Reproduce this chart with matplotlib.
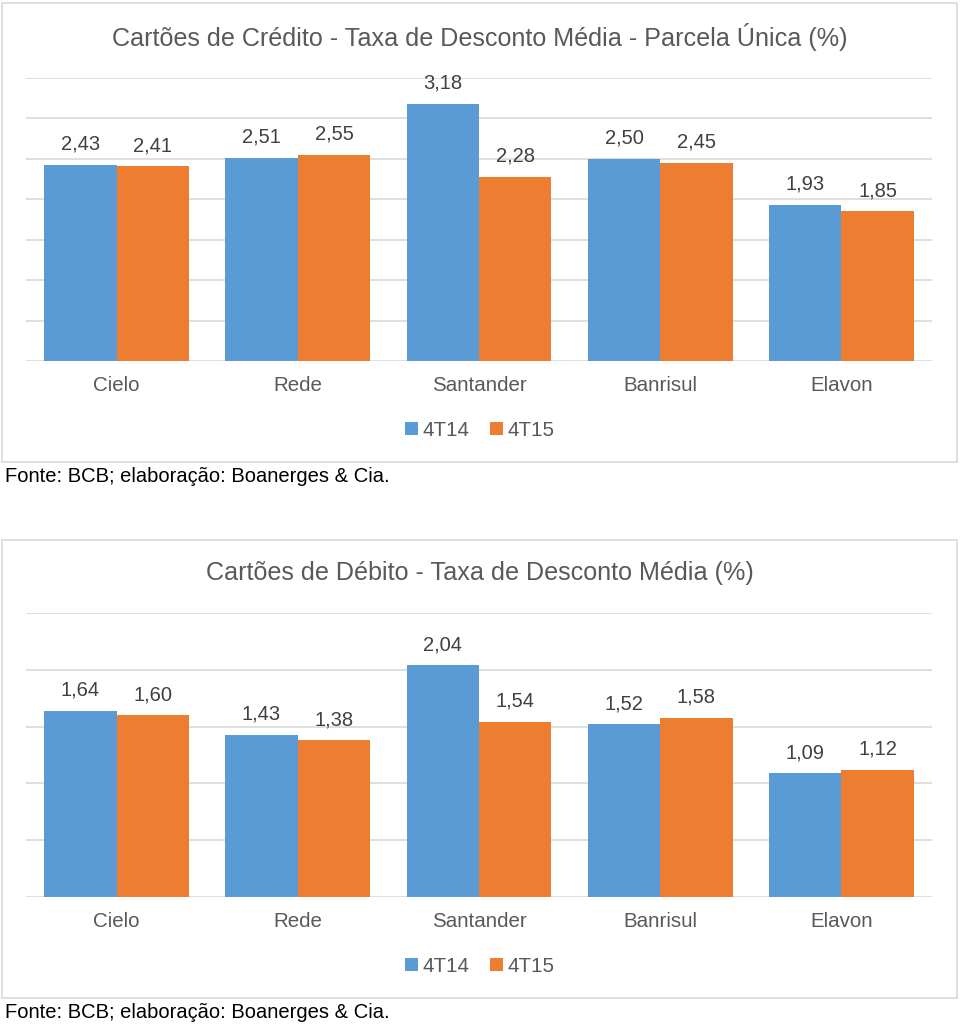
import matplotlib
matplotlib.use('Agg')
import matplotlib.pyplot as plt
from matplotlib.patches import Rectangle
import numpy as np

plt.rcParams['font.family'] = ['Liberation Sans', 'DejaVu Sans']

categorias = ['Cielo', 'Rede', 'Santander', 'Banrisul', 'Elavon']
series = ['4T14', '4T15']

credito_4t14 = [2.43, 2.51, 3.18, 2.50, 1.93]
credito_4t15 = [2.41, 2.55, 2.28, 2.45, 1.85]

debito_4t14 = [1.64, 1.43, 2.04, 1.52, 1.09]
debito_4t15 = [1.60, 1.38, 1.54, 1.58, 1.12]

titulo_credito = 'Cartões de Crédito - Taxa de Desconto Média - Parcela Única (%)'
titulo_debito = 'Cartões de Débito - Taxa de Desconto Média (%)'
fonte = 'Fonte: BCB; elaboração: Boanerges & Cia.'

AZUL = '#5B9BD5'
LARANJA = '#ED7D31'
CINZA_TXT = '#595959'
CINZA_GRID = '#D9D9D9'

W, H = 960, 1025
fig = plt.figure(figsize=(W / 100, H / 100), dpi=100)


def fy(py):
    # pixel from top -> figure fraction
    return (H - py) / H


def caixa(y0, y1):
    fig.patches.append(Rectangle((2 / W, fy(y1)), 955 / W, (y1 - y0) / H,
                                 transform=fig.transFigure, fill=False,
                                 edgecolor=CINZA_GRID, linewidth=1.2))


def grafico(top_px, bot_px, v1, v2, ymax, titulo, titulo_y, leg_y, fonte_y):
    ax = fig.add_axes([26 / W, fy(bot_px), 906 / W, (bot_px - top_px) / H])
    x = np.arange(len(categorias))
    w = 0.4
    b1 = ax.bar(x - w / 2, v1, w, color=AZUL, label=series[0], zorder=3)
    b2 = ax.bar(x + w / 2, v2, w, color=LARANJA, label=series[1], zorder=3)
    for bars in (b1, b2):
        for r in bars:
            ax.annotate(f'{r.get_height():.2f}'.replace('.', ','),
                        (r.get_x() + r.get_width() / 2, r.get_height()),
                        xytext=(0, 8), textcoords='offset points',
                        ha='center', va='bottom', fontsize=14.5, color='#404040')
    ax.set_xlim(-0.5, len(categorias) - 0.5)
    ax.set_ylim(0, ymax)
    ax.set_yticks(np.arange(0, ymax + 0.01, 0.5))
    ax.yaxis.grid(True, color=CINZA_GRID, linewidth=1.2, zorder=0)
    ax.set_axisbelow(True)
    ax.tick_params(axis='y', left=False, labelleft=False)
    ax.set_xticks(x)
    ax.set_xticklabels(categorias, fontsize=14.8, color=CINZA_TXT)
    ax.tick_params(axis='x', length=0, pad=11)
    for s in ax.spines.values():
        s.set_visible(False)
    ax.legend(loc='center', bbox_to_anchor=(0.5, fy(leg_y)),
              bbox_transform=fig.transFigure, ncol=2, frameon=False,
              handlelength=0.6, handleheight=0.6, handletextpad=0.25,
              columnspacing=1.0, fontsize=14.8, labelcolor=CINZA_TXT)
    fig.text(0.5, fy(titulo_y), titulo, ha='center', va='center',
             fontsize=18.1, color=CINZA_TXT)
    fig.text(5 / W, fy(fonte_y), fonte, ha='left', va='center',
             fontsize=14.5, color='black')
    return ax


caixa(3, 462)
caixa(540, 998)

grafico(78, 361, credito_4t14, credito_4t15, 3.5, titulo_credito, 37, 430, 477)
grafico(613, 897, debito_4t14, debito_4t15, 2.5, titulo_debito, 573, 966, 1012)

fig.savefig('out.png', dpi=100)
